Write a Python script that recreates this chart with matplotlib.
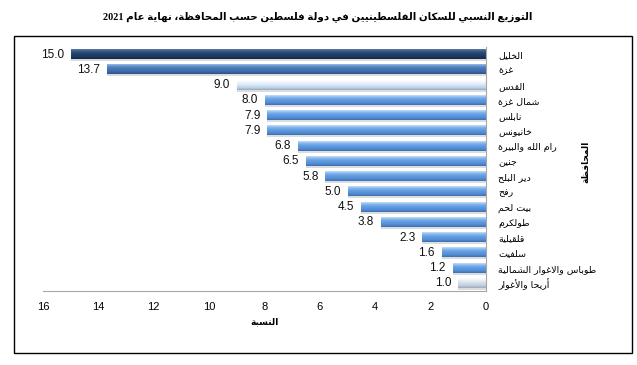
import re
import numpy as np
import matplotlib
matplotlib.use("Agg")
import matplotlib.pyplot as plt
from matplotlib.patches import Rectangle
from matplotlib.colors import LinearSegmentedColormap

# ---------------- data ----------------
title = "التوزيع النسبي للسكان الفلسطينيين في دولة فلسطين حسب المحافظة، نهاية عام 2021"
xlabel = "النسبة"
ylabel = "المحافظة"
categories = ["الخليل", "غزة", "القدس", "شمال غزة", "نابلس", "خانيونس",
              "رام الله والبيرة", "جنين", "دير البلح", "رفح", "بيت لحم",
              "طولكرم", "قلقيلية", "سلفيت", "طوباس والاغوار الشمالية",
              "أريحا والأغوار"]
values = [15.0, 13.7, 9.0, 8.0, 7.9, 7.9, 6.8, 6.5, 5.8, 5.0, 4.5, 3.8,
          2.3, 1.6, 1.2, 1.0]
xticks = [0, 2, 4, 6, 8, 10, 12, 14, 16]
bar_style = ["navy", "steel", "pale", "blue", "blue", "blue", "blue", "blue",
             "blue", "blue", "blue", "blue", "blue", "blue", "blue", "grey"]

# ---------------- minimal Arabic shaping ----------------
FORMS = {
    'ا': (0xFE8D, 0xFE8E), 'أ': (0xFE83, 0xFE84), 'إ': (0xFE87, 0xFE88),
    'آ': (0xFE81, 0xFE82),
    'ب': (0xFE8F, 0xFE90, 0xFE91, 0xFE92), 'ة': (0xFE93, 0xFE94),
    'ت': (0xFE95, 0xFE96, 0xFE97, 0xFE98), 'ث': (0xFE99, 0xFE9A, 0xFE9B, 0xFE9C),
    'ج': (0xFE9D, 0xFE9E, 0xFE9F, 0xFEA0), 'ح': (0xFEA1, 0xFEA2, 0xFEA3, 0xFEA4),
    'خ': (0xFEA5, 0xFEA6, 0xFEA7, 0xFEA8), 'د': (0xFEA9, 0xFEAA),
    'ذ': (0xFEAB, 0xFEAC), 'ر': (0xFEAD, 0xFEAE), 'ز': (0xFEAF, 0xFEB0),
    'س': (0xFEB1, 0xFEB2, 0xFEB3, 0xFEB4), 'ش': (0xFEB5, 0xFEB6, 0xFEB7, 0xFEB8),
    'ص': (0xFEB9, 0xFEBA, 0xFEBB, 0xFEBC), 'ض': (0xFEBD, 0xFEBE, 0xFEBF, 0xFEC0),
    'ط': (0xFEC1, 0xFEC2, 0xFEC3, 0xFEC4), 'ظ': (0xFEC5, 0xFEC6, 0xFEC7, 0xFEC8),
    'ع': (0xFEC9, 0xFECA, 0xFECB, 0xFECC), 'غ': (0xFECD, 0xFECE, 0xFECF, 0xFED0),
    'ف': (0xFED1, 0xFED2, 0xFED3, 0xFED4), 'ق': (0xFED5, 0xFED6, 0xFED7, 0xFED8),
    'ك': (0xFED9, 0xFEDA, 0xFEDB, 0xFEDC), 'ل': (0xFEDD, 0xFEDE, 0xFEDF, 0xFEE0),
    'م': (0xFEE1, 0xFEE2, 0xFEE3, 0xFEE4), 'ن': (0xFEE5, 0xFEE6, 0xFEE7, 0xFEE8),
    'ه': (0xFEE9, 0xFEEA, 0xFEEB, 0xFEEC), 'و': (0xFEED, 0xFEEE),
    'ى': (0xFEEF, 0xFEF0), 'ي': (0xFEF1, 0xFEF2, 0xFEF3, 0xFEF4),
}
LAM_ALEF = {'ا': (0xFEFB, 0xFEFC), 'أ': (0xFEF7, 0xFEF8),
            'إ': (0xFEF9, 0xFEFA), 'آ': (0xFEF5, 0xFEF6)}


def shape(text):
    out = []
    chars = list(text)
    i = 0
    n = len(chars)
    while i < n:
        c = chars[i]
        if c not in FORMS:
            out.append(c)
            i += 1
            continue
        prev = chars[i - 1] if i > 0 else None
        joins_prev = prev is not None and prev in FORMS and len(FORMS[prev]) == 4
        if c == 'ل' and i + 1 < n and chars[i + 1] in LAM_ALEF:
            f = LAM_ALEF[chars[i + 1]]
            out.append(chr(f[1] if joins_prev else f[0]))
            i += 2
            continue
        f = FORMS[c]
        nxt = chars[i + 1] if i + 1 < n else None
        joins_next = len(f) == 4 and nxt is not None and nxt in FORMS
        if joins_prev and joins_next:
            g = f[3]
        elif joins_prev:
            g = f[1]
        elif joins_next:
            g = f[2]
        else:
            g = f[0]
        out.append(chr(g))
        i += 1
    vis = ''.join(out)[::-1]
    vis = re.sub(r'[0-9.]+', lambda m: m.group(0)[::-1], vis)
    return vis


# ---------------- figure ----------------
AR = ['DejaVu Sans']
fig = plt.figure(figsize=(6.37, 3.65), dpi=100)
fig.patches.append(Rectangle((14 / 637, 1 - 353 / 365), 618 / 637, 317 / 365,
                             transform=fig.transFigure, fill=False,
                             edgecolor='black', linewidth=1.0))
fig.text(318 / 637, 1 - 17 / 365, shape(title), ha='center', va='center',
         fontsize=7.4, fontweight='bold',
         family=['Liberation Serif', 'DejaVu Sans Condensed', 'DejaVu Sans'])

ax = fig.add_axes([43 / 637, 1 - 291 / 365, (486 - 43) / 637, (291 - 47) / 365])

palettes = {
    "navy": ["#5d7ba3", "#33557f", "#22436c", "#1b3a5f", "#12284a"],
    "steel": ["#9dbbe3", "#5a89c6", "#4575b5", "#3d6aa8", "#2b5188"],
    "pale": ["#ffffff", "#eef6ff", "#d6e6f6", "#c2d4e8", "#93a9c4"],
    "blue": ["#c4defa", "#7fb1ec", "#5f9be0", "#548dd4", "#3b6fb4"],
    "grey": ["#ffffff", "#e9eef5", "#d3dde9", "#c3cfde", "#9aa9bc"],
}

h = 0.6
ypos = np.arange(len(categories))
for y, v, st in zip(ypos, values, bar_style):
    cmap = LinearSegmentedColormap.from_list(st, palettes[st])
    grad = np.linspace(0, 1, 64).reshape(-1, 1)
    # soft shadow
    ax.add_patch(Rectangle((0, y - h / 2 + 0.12), v, h, facecolor='#dcdcdc',
                           edgecolor='none', zorder=1))
    ax.imshow(grad, aspect='auto', cmap=cmap,
              extent=(v, 0, y + h / 2, y - h / 2), zorder=2,
              interpolation='bilinear')
    ax.text(v + 0.25, y, f"{v:.1f}", ha='right', va='center', fontsize=8.5,
            family='Liberation Sans', color='#111111')

ax.set_xlim(16, 0)
ax.set_ylim(len(categories) - 0.5, -0.5)
ax.set_xticks(xticks)
ax.set_xticklabels([str(t) for t in xticks], family='Liberation Sans', fontsize=8)
ax.tick_params(axis='x', length=0, pad=8)

ax.yaxis.tick_right()
ax.set_yticks(ypos)
ax.set_yticklabels([shape(c) for c in categories], family=AR, fontsize=6.8)
ax.tick_params(axis='y', length=0, pad=9)

for s in ['top', 'left']:
    ax.spines[s].set_visible(False)
ax.spines['right'].set_color('#a6a6a6')
ax.spines['bottom'].set_color('#a6a6a6')

ax.set_xlabel(shape(xlabel), family=AR, fontsize=6.5, fontweight='bold', labelpad=4)
ax.yaxis.set_label_position('right')
ax.set_ylabel(shape(ylabel), family=AR, fontsize=6.5, fontweight='bold',
              rotation=90)
ax.yaxis.set_label_coords(1 + (581 - 486) / 443, 1 - (162 - 47) / 244)

fig.savefig("out.png", dpi=100)
